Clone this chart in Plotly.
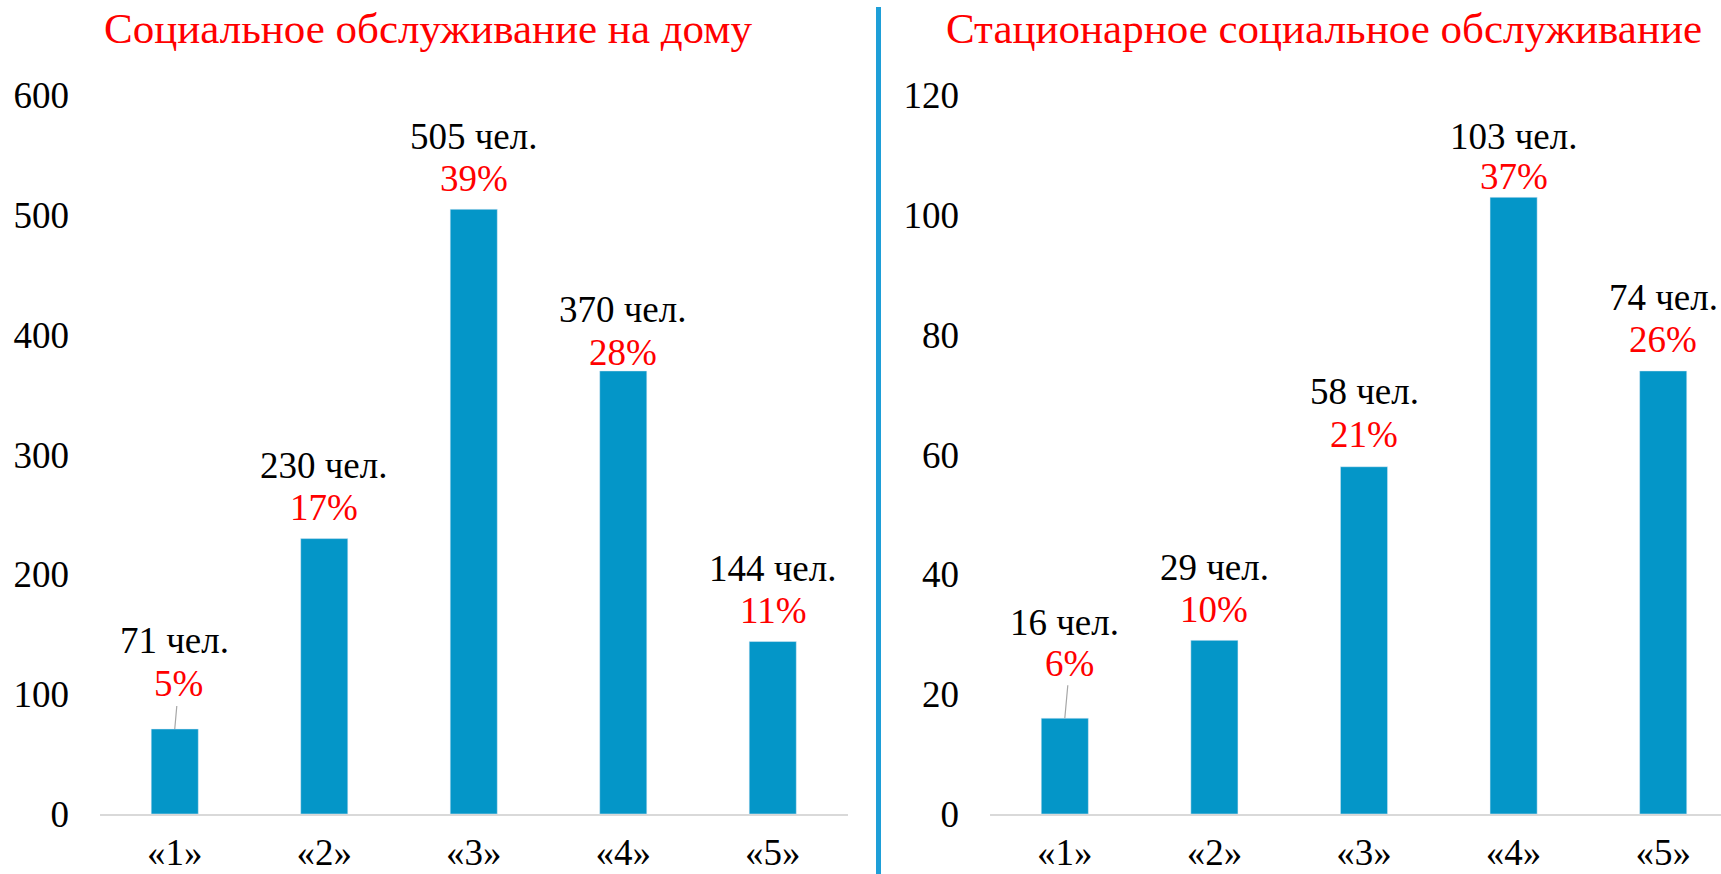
import plotly.graph_objects as go

categories = ["«1»", "«2»", "«3»", "«4»", "«5»"]
home_counts = [71, 230, 505, 370, 144]
home_percents = [5, 17, 39, 28, 11]
stat_counts = [16, 29, 58, 103, 74]
stat_percents = [6, 10, 21, 37, 26]
title_home = "Социальное обслуживание на дому"
title_stat = "Стационарное социальное обслуживание"

W, H = 1721, 874
FONT = "'Liberation Serif', 'Times New Roman', serif"
BAR = "#0496C8"

fig = go.Figure()
fig.add_trace(go.Bar(x=categories, y=home_counts, marker_color=BAR, width=0.315,
                     xaxis="x", yaxis="y", hoverinfo="skip"))
fig.add_trace(go.Bar(x=categories, y=stat_counts, marker_color=BAR, width=0.315,
                     xaxis="x2", yaxis="y2", hoverinfo="skip"))

def px_x(p):
    return p / W

def px_y(p):
    return (H - p) / H

ydom = [px_y(814), px_y(95.5)]

axis_font = dict(family=FONT, size=37, color="black")
common_x = dict(type="category", showline=True, linecolor="#D9D9D9", linewidth=2,
                showgrid=False, zeroline=False, ticks="", tickfont=axis_font,
                ticklabelstandoff=5, fixedrange=True, automargin=False)
common_y = dict(showline=False, showgrid=False, zeroline=False, ticks="",
                tickfont=axis_font, ticklabelstandoff=30, fixedrange=True, automargin=False)

fig.update_layout(
    width=W, height=H, autosize=False,
    margin=dict(l=0, r=0, t=0, b=0, pad=0),
    paper_bgcolor="white", plot_bgcolor="white",
    showlegend=False,
    font=dict(family=FONT),
    xaxis=dict(domain=[px_x(100), px_x(847.5)], range=[-0.5, 4.5], anchor="y", **common_x),
    yaxis=dict(domain=ydom, range=[0, 600], dtick=100, anchor="x", **common_y),
    xaxis2=dict(domain=[px_x(990), 1.0], range=[-0.5, -0.5 + (W - 990) / 149.6], anchor="y2", **common_x),
    yaxis2=dict(domain=ydom, range=[0, 120], dtick=20, anchor="x2", **common_y),
)

annotations = []
label_font = dict(family=FONT, size=37, color="black")
pct_font = dict(family=FONT, size=37, color="#FF0000")

def add_labels(xref, yref, counts, percents, leader, shifts):
    for i, (c, v, p) in enumerate(zip(categories, counts, percents)):
        if i in leader:
            ax, ay, cshift = leader[i]
            annotations.append(dict(x=c, y=v, xref=xref, yref=yref, text=f"{p}%",
                                    font=pct_font, showarrow=True, arrowhead=0,
                                    arrowwidth=1.2, arrowcolor="#A6A6A6", ax=ax, ay=ay,
                                    standoff=0))
            annotations.append(dict(x=c, y=v, xref=xref, yref=yref, text=f"{v} чел.",
                                    font=label_font, showarrow=False, yanchor="middle",
                                    yshift=cshift))
        else:
            cs, ps = shifts.get(i, (73, 31))
            annotations.append(dict(x=c, y=v, xref=xref, yref=yref, text=f"{p}%",
                                    font=pct_font, showarrow=False, yanchor="middle",
                                    yshift=ps))
            annotations.append(dict(x=c, y=v, xref=xref, yref=yref, text=f"{v} чел.",
                                    font=label_font, showarrow=False, yanchor="middle",
                                    yshift=cs))

add_labels("x", "y", home_counts, home_percents, {0: (4, -45, 88)}, {3: (61, 18)})
add_labels("x2", "y2", stat_counts, stat_percents, {0: (5, -55, 96)}, {3: (61, 21), 2: (75, 32)})

title_font = dict(family=FONT, size=43, color="#FF0000")
annotations.append(dict(x=px_x(428), y=px_y(28), xref="paper", yref="paper", text=title_home,
                        font=title_font, showarrow=False, xanchor="center", yanchor="middle"))
annotations.append(dict(x=px_x(1324), y=px_y(28), xref="paper", yref="paper", text=title_stat,
                        font=title_font, showarrow=False, xanchor="center", yanchor="middle"))

fig.update_layout(annotations=annotations)

fig.add_shape(type="line", xref="paper", yref="paper", x0=px_x(878.5), x1=px_x(878.5),
              y0=0, y1=px_y(7), line=dict(color="#1E9FD8", width=5))

fig.write_html("out.html", config={"displayModeBar": False, "staticPlot": True},
               post_script="document.body.style.margin='0';document.body.style.overflow='hidden';")
